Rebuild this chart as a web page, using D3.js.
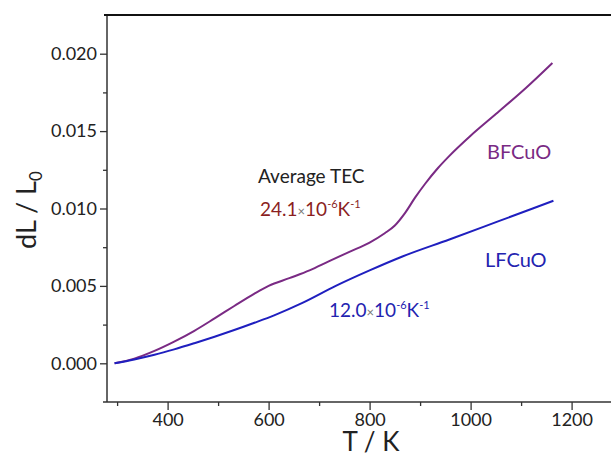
<!DOCTYPE html>
<html>
<head>
<meta charset="utf-8">
<script src="https://cdn.jsdelivr.net/npm/d3@7"></script>
<style>
    body { margin: 0; background: #fff; }
    svg { display: block; font-family: Lato, "Open Sans", sans-serif; }
</style>
</head>
<body>
<div id="chart"></div>
<script>
// temperature (K) / relative expansion
const bfTemp = [295, 334, 374, 413, 453, 493, 532, 572, 600, 641, 681, 720, 760, 800, 830, 850, 870, 890, 910, 935, 958, 1000, 1050, 1110, 1162];
const bfExp  = [0.0000, 0.0003, 0.0008, 0.0014, 0.0021, 0.0029, 0.0037, 0.0045, 0.0050, 0.0055, 0.0060, 0.0066, 0.0072, 0.0078, 0.0084, 0.0089, 0.0097, 0.0107, 0.0116, 0.0126, 0.0134, 0.0147, 0.0161, 0.0178, 0.0194];

const lfTemp = [295, 334, 374, 413, 453, 493, 532, 572, 611, 667, 733, 800, 865, 958, 1057, 1123, 1164];
const lfExp  = [0.0000, 0.00025, 0.00055, 0.0009, 0.0013, 0.00172, 0.00215, 0.00262, 0.0031, 0.0039, 0.0050, 0.0060, 0.0069, 0.0080, 0.0092, 0.0100, 0.0105];

const xMajor = [400, 600, 800, 1000, 1200];
const xMinor = [300, 500, 700, 900, 1100];
const yMajor = [0.000, 0.005, 0.010, 0.015, 0.020];
const yMinor = [0.0025, 0.0075, 0.0125, 0.0175];

const W = 611, H = 457;
const margin = { top: 15, left: 107 };
const width = 505, height = 387;

const svg = d3.select("#chart")
    .append("svg")
    .attr("width", W)
    .attr("height", H);

const g = svg.append("g")
    .attr("transform", `translate(${margin.left}, ${margin.top})`);

const x = d3.scaleLinear().domain([280, 1280]).range([0, width]);
const y = d3.scaleLinear().domain([-0.0025, 0.0225]).range([height, 0]);

// ==========================
// Axes
// ==========================
g.append("g")
    .attr("transform", `translate(0, ${height})`)
    .call(d3.axisBottom(x).tickValues(xMajor).tickSize(8).tickSizeOuter(0).tickPadding(3).tickFormat(d3.format("d")));
g.append("g")
    .attr("transform", `translate(0, ${height})`)
    .call(d3.axisBottom(x).tickValues(xMinor).tickSize(4).tickFormat(""));

g.append("g")
    .call(d3.axisLeft(y).tickValues(yMajor).tickSize(7).tickSizeOuter(0).tickPadding(3).tickFormat(d3.format(".3f")));
g.append("g")
    .call(d3.axisLeft(y).tickValues(yMinor).tickSize(4).tickFormat(""));

g.selectAll(".domain").remove();
g.selectAll(".tick line").attr("stroke", "#333").attr("stroke-width", 1.3);
g.selectAll(".tick text").attr("font-size", 18).attr("fill", "#222")
    .attr("font-family", "Lato, sans-serif");

// frame lines
g.append("line").attr("x1", -4).attr("x2", W).attr("y1", height).attr("y2", height)
    .attr("stroke", "#333").attr("stroke-width", 1.5);
g.append("line").attr("x1", 0).attr("x2", 0).attr("y1", 0).attr("y2", height)
    .attr("stroke", "#333").attr("stroke-width", 1.5);
g.append("line").attr("x1", -3).attr("x2", W).attr("y1", 0).attr("y2", 0)
    .attr("stroke", "#111").attr("stroke-width", 2);

// axis titles
svg.append("text")
    .attr("x", 371)
    .attr("y", 451)
    .attr("text-anchor", "middle")
    .attr("font-size", 26)
    .attr("fill", "#222")
    .text("T / K");

const yt = svg.append("text")
    .attr("transform", "translate(36, 210) rotate(-90)")
    .attr("text-anchor", "middle")
    .attr("font-size", 27)
    .attr("fill", "#222");
yt.append("tspan").text("dL / L");
yt.append("tspan").attr("font-size", 17).attr("dy", 6).text("0");

// ==========================
// Curves
// ==========================
const line = d3.line()
    .x(d => x(d[0]))
    .y(d => y(d[1]))
    .curve(d3.curveMonotoneX);

g.append("path")
    .datum(d3.zip(bfTemp, bfExp))
    .attr("fill", "none")
    .attr("stroke", "#7a2a84")
    .attr("stroke-width", 2)
    .attr("d", line);

g.append("path")
    .datum(d3.zip(lfTemp, lfExp))
    .attr("fill", "none")
    .attr("stroke", "#1f1fbf")
    .attr("stroke-width", 2)
    .attr("d", line);

// ==========================
// Annotations
// ==========================
function tec(xp, yp, value, color) {
    const t = svg.append("text")
        .attr("x", xp).attr("y", yp)
        .attr("font-size", 19)
        .attr("fill", color);
    t.append("tspan").text(value);
    t.append("tspan").attr("font-size", 13).attr("fill", "#777").text("×");
    t.append("tspan").text("10");
    t.append("tspan").attr("font-size", 11).attr("dy", -8).text("-6");
    t.append("tspan").attr("dy", 8).text("K");
    t.append("tspan").attr("font-size", 11).attr("dy", -8).text("-1");
}

svg.append("text")
    .attr("x", 258).attr("y", 183)
    .attr("font-size", 19)
    .attr("fill", "#222")
    .text("Average TEC");

tec(260, 216, "24.1", "#8b1f1f");
tec(329, 317, "12.0", "#2323b0");

svg.append("text")
    .attr("x", 487).attr("y", 159)
    .attr("font-size", 20)
    .attr("fill", "#7a2a84")
    .text("BFCuO");

svg.append("text")
    .attr("x", 485).attr("y", 267)
    .attr("font-size", 20)
    .attr("fill", "#2323b0")
    .text("LFCuO");
</script>
</body>
</html>
